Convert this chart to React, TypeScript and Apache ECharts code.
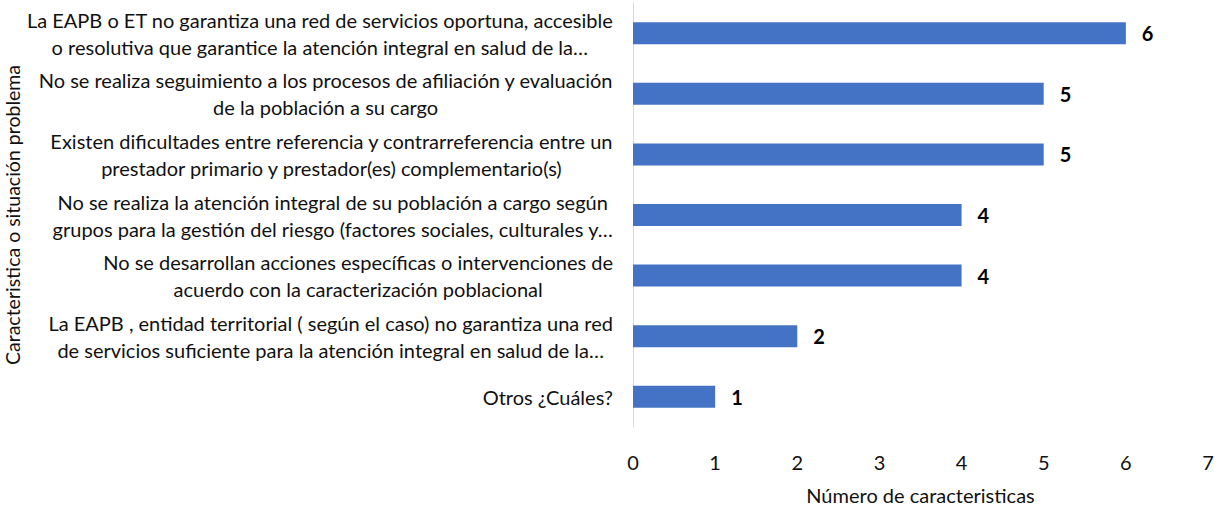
import React, { useEffect, useRef } from "react";
import * as echarts from "echarts";

const categories: string[] = [
  "La EAPB o ET no garantiza una red de servicios oportuna, accesible\no resolutiva que garantice la atención integral en salud de la…",
  "No se realiza seguimiento a los procesos de afiliación y evaluación\nde la población a su cargo",
  "Existen dificultades entre referencia y contrarreferencia entre un\nprestador primario y prestador(es) complementario(s)",
  "No se realiza la atención integral de su población a cargo según\ngrupos para la gestión del riesgo (factores sociales, culturales y…",
  "No se desarrollan acciones específicas o intervenciones de\nacuerdo con la caracterización poblacional",
  "La EAPB , entidad territorial ( según el caso) no garantiza una red\nde servicios suficiente para la atención integral en salud de la…",
  "Otros ¿Cuáles?",
];
const values: number[] = [6, 5, 5, 4, 4, 2, 1];
const xTicks: number[] = [0, 1, 2, 3, 4, 5, 6, 7];

const xTitle = "Número de caracteristicas";
const yTitle = "Caracteristica o situación problema";

const FONT = "Lato, 'Open Sans', sans-serif";
const FS = 20;
const TXT = "#111111";

export default function App() {
  const ref = useRef<HTMLDivElement>(null);
  useEffect(() => {
    if (!ref.current) return;
    const chart = echarts.init(ref.current, undefined, { renderer: "svg" });
    chart.setOption({
      animation: false,
      grid: { left: 633, right: 15, top: 3, bottom: 73, containLabel: false },
      xAxis: {
        type: "value",
        min: xTicks[0],
        max: xTicks[xTicks.length - 1],
        interval: 1,
        name: xTitle,
        nameLocation: "middle",
        nameGap: 58,
        nameTextStyle: { fontFamily: FONT, fontSize: FS, color: TXT },
        axisLine: { show: false },
        axisTick: { show: false },
        splitLine: { show: false },
        axisLabel: {
          margin: 25,
          fontFamily: FONT,
          fontSize: FS,
          color: TXT,
        },
      },
      yAxis: {
        type: "category",
        data: categories,
        inverse: true,
        name: yTitle,
        nameLocation: "middle",
        nameRotate: 90,
        nameGap: 606,
        nameTextStyle: { fontFamily: FONT, fontSize: 19.5, color: TXT },
        axisLine: { show: true, lineStyle: { color: "#D9D9D9", width: 1 } },
        axisTick: { show: false },
        axisLabel: {
          margin: 20,
          align: "right",
          formatter: (v: string) =>
            v
              .split("\n")
              .map((l) => `{c|${l}}`)
              .join("\n"),
          rich: {
            c: {
              align: "center",
              fontFamily: FONT,
              fontSize: FS,
              color: TXT,
              lineHeight: 27,
            },
          },
        },
      },
      series: [
        {
          type: "bar",
          data: values,
          barWidth: 22,
          itemStyle: { color: "#4472C4" },
          label: {
            show: true,
            position: "right",
            distance: 16,
            fontFamily: FONT,
            fontSize: FS,
            fontWeight: "bold",
            color: "#000000",
          },
        },
      ],
    });
    return () => chart.dispose();
  }, []);
  return (
    <div
      ref={ref}
      style={{ position: "absolute", left: 0, top: 0, width: 1223, height: 510 }}
    />
  );
}
